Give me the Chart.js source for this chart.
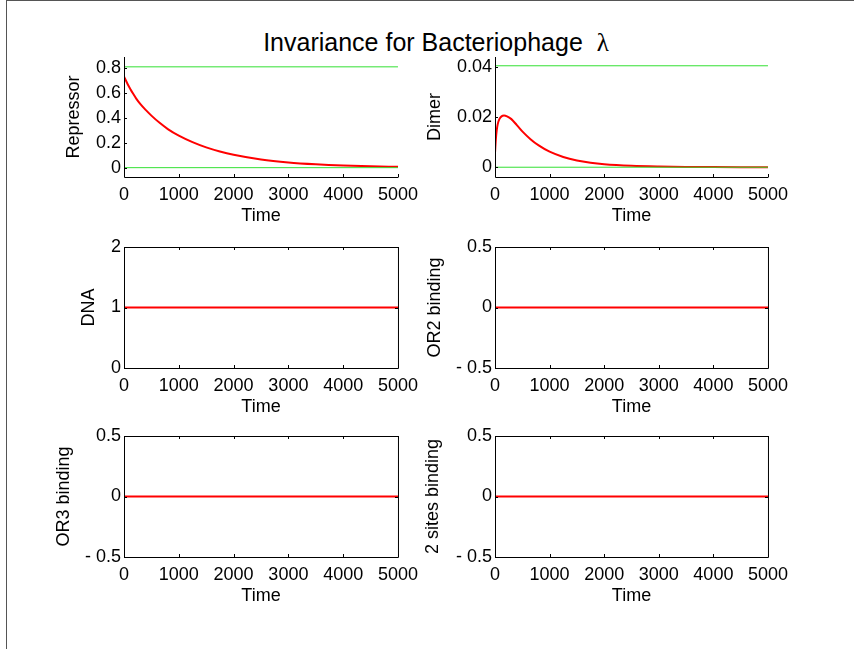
<!DOCTYPE html>
<html>
<head>
<meta charset="utf-8">
<script src="https://cdn.jsdelivr.net/npm/chart.js@4.4.1/dist/chart.umd.min.js"></script>
<style>
  html, body { margin: 0; padding: 0; background: #fff; }
  body { width: 854px; height: 649px; position: relative; overflow: hidden; }
  #frame { position: absolute; left: 6px; top: 0; width: 900px; height: 700px;
           border-left: 1px solid #555; border-top: 1px solid #555; }
  #title { position: absolute; left: 0; top: 27px; width: 872px; text-align: center;
           font: 25px 'Liberation Sans', Arial, sans-serif; line-height: 30px; color: #000; }
  #title .lam { font-family: 'Liberation Serif', 'DejaVu Serif', serif; }
  canvas { position: absolute; }
</style>
</head>
<body>
<div id="frame"></div>
<div id="title">Invariance for Bacteriophage&nbsp; <span class="lam">λ</span></div>
<canvas id="repressorChart"></canvas>
<canvas id="dimerChart"></canvas>
<canvas id="dnaChart"></canvas>
<canvas id="or2Chart"></canvas>
<canvas id="or3Chart"></canvas>
<canvas id="twoSitesChart"></canvas>
<script>
// time samples
const timeValues = [0, 15, 30, 50, 80, 120, 165, 220, 300, 400, 500, 650, 800, 1000,
  1250, 1500, 1750, 2000, 2500, 3000, 3500, 4000, 4500, 5000];
const repressorValues = [0.733, 0.718, 0.704, 0.686, 0.66, 0.628, 0.595, 0.557, 0.51, 0.462,
  0.418, 0.36, 0.31, 0.257, 0.205, 0.163, 0.13, 0.104, 0.066, 0.042, 0.027, 0.017, 0.011, 0.007];
const dimerValues = [0.0057, 0.011, 0.0145, 0.0172, 0.0192, 0.0203, 0.0206, 0.0203, 0.0192, 0.0168,
  0.0143, 0.0112, 0.0087, 0.0062, 0.0041, 0.0027, 0.0018, 0.0012, 0.00055, 0.00025, 0.00011,
  0.00005, 0.00002, 0.00001];

// flat series (start and end of the run)
const flatTime = [0, 5000];
const dnaValues = [1, 1];
const or2Values = [0, 0];
const or3Values = [0, 0];
const twoSitesValues = [0, 0];

// invariant bounds (green lines)
const repressorBounds = [0, 0.81];
const dimerBounds = [0, 0.0405];

const timeTicks = [0, 1000, 2000, 3000, 4000, 5000];
const timeTickLabels = ['0', '1000', '2000', '3000', '4000', '5000'];
const repressorTicks = [0, 0.2, 0.4, 0.6, 0.8];
const repressorTickLabels = ['0', '0.2', '0.4', '0.6', '0.8'];
const dimerTicks = [0, 0.02, 0.04];
const dimerTickLabels = ['0', '0.02', '0.04'];
const dnaTicks = [0, 1, 2];
const dnaTickLabels = ['0', '1', '2'];
const bindingTicks = [-0.5, 0, 0.5];
const bindingTickLabels = ['- 0.5', '0', '0.5'];

Chart.defaults.font.family = "'Liberation Sans', Arial, sans-serif";
Chart.defaults.font.size = 18;
Chart.defaults.color = '#000';

const PAD_TOP = 15, PAD_RIGHT = 25, X_AXIS_H = 50;

// draws the axis lines / box and the inward tick marks
const axesBox = {
  id: 'axesBox',
  afterDatasetsDraw(chart, args, opts) {
    const { ctx, chartArea: a, scales: { x, y } } = chart;
    const tl = 3;
    ctx.save();
    ctx.strokeStyle = '#000';
    ctx.lineWidth = 1;
    ctx.beginPath();
    ctx.moveTo(a.left + 0.5, a.top);
    ctx.lineTo(a.left + 0.5, a.bottom + 0.5);
    ctx.lineTo(a.right + 0.5, a.bottom + 0.5);
    if (opts.box) {
      ctx.lineTo(a.right + 0.5, a.top + 0.5);
      ctx.lineTo(a.left + 0.5, a.top + 0.5);
    }
    x.ticks.forEach(t => {
      const px = Math.round(x.getPixelForValue(t.value)) + 0.5;
      ctx.moveTo(px, a.bottom); ctx.lineTo(px, a.bottom - tl);
      if (opts.box) { ctx.moveTo(px, a.top); ctx.lineTo(px, a.top + tl); }
    });
    y.ticks.forEach(t => {
      const py = Math.round(y.getPixelForValue(t.value)) + 0.5;
      ctx.moveTo(a.left, py); ctx.lineTo(a.left + tl, py);
      if (opts.box) { ctx.moveTo(a.right, py); ctx.lineTo(a.right - tl, py); }
    });
    ctx.stroke();
    ctx.restore();
  }
};

function xy(times, values) {
  return times.map((t, i) => ({ x: t, y: values[i] }));
}

function makePanel(p) {
  const canvas = document.getElementById(p.id);
  const w = p.yAxisW + p.width + PAD_RIGHT;
  const h = PAD_TOP + p.height + X_AXIS_H;
  canvas.width = w;
  canvas.height = h;
  canvas.style.left = (p.left - p.yAxisW) + 'px';
  canvas.style.top = (p.top - PAD_TOP) + 'px';

  const datasets = [];
  if (p.bounds) {
    p.bounds.forEach(b => datasets.push({
      data: xy(flatTime, [b, b]),
      borderColor: '#33e033', borderWidth: 1, pointRadius: 0
    }));
  }
  datasets.push({
    data: xy(p.times, p.values),
    borderColor: '#ff0000', borderWidth: 2, pointRadius: 0,
    cubicInterpolationMode: 'monotone'
  });

  new Chart(canvas, {
    type: 'line',
    data: { datasets },
    options: {
      responsive: false,
      animation: false,
      devicePixelRatio: 1,
      layout: { padding: { top: PAD_TOP, right: PAD_RIGHT, left: 0, bottom: 0 } },
      plugins: { legend: { display: false }, tooltip: { enabled: false }, axesBox: { box: p.box } },
      scales: {
        x: {
          type: 'linear', min: 0, max: 5000,
          grid: { display: false, drawTicks: false },
          border: { display: false },
          afterBuildTicks: s => { s.ticks = timeTicks.map(v => ({ value: v })); },
          afterFit: s => { s.height = X_AXIS_H; },
          ticks: { padding: 7, maxRotation: 0, autoSkip: false,
                   callback: (v, i) => timeTickLabels[i] },
          title: { display: true, text: 'Time', padding: 0 }
        },
        y: {
          type: 'linear', min: p.yMin, max: p.yMax,
          grid: { display: false, drawTicks: false },
          border: { display: false },
          afterBuildTicks: s => { s.ticks = p.ticks.map(v => ({ value: v })); },
          afterFit: s => { s.width = p.yAxisW; },
          ticks: { padding: 3, autoSkip: false, callback: (v, i) => p.tickLabels[i] },
          title: { display: true, text: p.label, padding: 0 }
        }
      }
    },
    plugins: [axesBox]
  });
}

makePanel({ id: 'repressorChart', label: 'Repressor', left: 124, top: 57, width: 276, height: 120,
  yAxisW: 61, yMin: -0.075, yMax: 0.889, ticks: repressorTicks, tickLabels: repressorTickLabels,
  times: timeValues, values: repressorValues, bounds: repressorBounds, box: false });
makePanel({ id: 'dimerChart', label: 'Dimer', left: 495, top: 57, width: 275, height: 120,
  yAxisW: 71, yMin: -0.0039, yMax: 0.044, ticks: dimerTicks, tickLabels: dimerTickLabels,
  times: timeValues, values: dimerValues, bounds: dimerBounds, box: false });
makePanel({ id: 'dnaChart', label: 'DNA', left: 124, top: 247, width: 276, height: 121,
  yAxisW: 46, yMin: 0, yMax: 2, ticks: dnaTicks, tickLabels: dnaTickLabels,
  times: flatTime, values: dnaValues, box: true });
makePanel({ id: 'or2Chart', label: 'OR2 binding', left: 495, top: 247, width: 275, height: 121,
  yAxisW: 71, yMin: -0.5, yMax: 0.5, ticks: bindingTicks, tickLabels: bindingTickLabels,
  times: flatTime, values: or2Values, box: true });
makePanel({ id: 'or3Chart', label: 'OR3 binding', left: 124, top: 436, width: 276, height: 121,
  yAxisW: 71, yMin: -0.5, yMax: 0.5, ticks: bindingTicks, tickLabels: bindingTickLabels,
  times: flatTime, values: or3Values, box: true });
makePanel({ id: 'twoSitesChart', label: '2 sites binding', left: 495, top: 436, width: 275, height: 121,
  yAxisW: 73, yMin: -0.5, yMax: 0.5, ticks: bindingTicks, tickLabels: bindingTickLabels,
  times: flatTime, values: twoSitesValues, box: true });
</script>
</body>
</html>
